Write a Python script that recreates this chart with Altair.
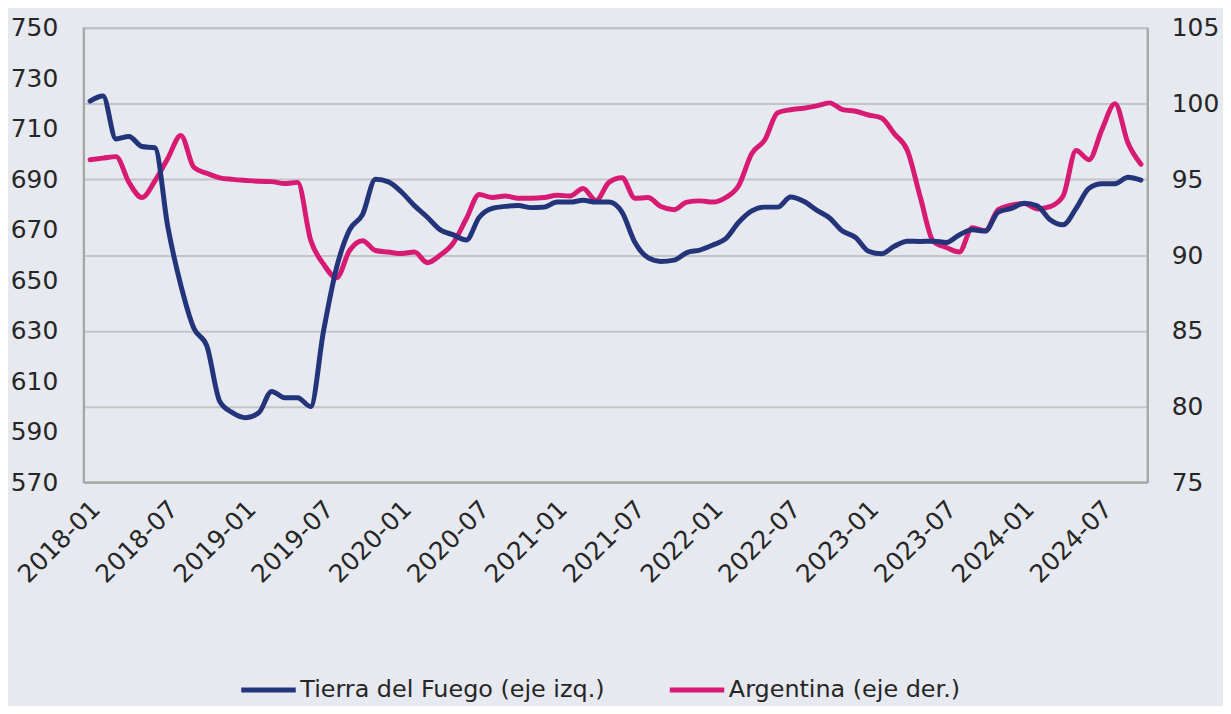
import altair as alt
import pandas as pd

# Categories: monthly 2018-01 .. 2024-10
meses = [f"{y}-{m:02d}" for y in range(2018, 2025) for m in range(1, 13)][:82]

tierra_del_fuego = [
    721, 723, 706, 707, 703, 702.5, 671, 648, 631, 624,
    602, 597.5, 595.6, 597.5, 606, 603.5, 603.5, 600, 630, 655,
    670, 676, 690, 689, 685, 679.6, 675, 670, 668, 666,
    675, 678.5, 679.3, 679.6, 678.8, 679, 681, 681, 681.7, 681,
    681, 677, 665, 659, 657.5, 658, 661, 662, 664, 666.5,
    673, 677.5, 679, 679, 683, 681.3, 677.8, 674.7, 669.5, 667,
    661.5, 660.5, 663.5, 665.5, 665.4, 665.5, 665, 668, 670, 669.5,
    677, 678.5, 680.5, 679.5, 674, 672, 678.5, 686.5, 688.3, 688.3,
    690.8, 689.7,
]

argentina = [
    96.3, 96.4, 96.5, 94.8, 93.8, 94.9, 96.4, 97.9, 95.8, 95.4,
    95.1, 95.0, 94.93, 94.87, 94.85, 94.72, 94.8, 91.0, 89.4, 88.5,
    90.3, 90.95, 90.3, 90.2, 90.1, 90.2, 89.5, 90.0, 90.8, 92.4,
    94.0, 93.8, 93.9, 93.75, 93.75, 93.8, 93.95, 93.9, 94.4, 93.6,
    94.8, 95.1, 93.75, 93.8, 93.2, 93.0, 93.5, 93.58, 93.5, 93.8,
    94.6, 96.7, 97.6, 99.4, 99.6, 99.7, 99.85, 100.05, 99.6, 99.5,
    99.25, 99.05, 98.0, 96.9, 93.8, 90.9, 90.5, 90.2, 91.8, 91.6,
    93.0, 93.3, 93.4, 93.05, 93.2, 93.9, 96.9, 96.3, 98.3, 100.0,
    97.4, 96.0,
]

series = ["Tierra del Fuego (eje izq.)", "Argentina (eje der.)"]
colores = ["#24347a", "#d81b72"]
x_labels = meses[::6]
left_ticks = list(range(570, 751, 20))
right_ticks = list(range(75, 106, 5))

df = pd.concat([
    pd.DataFrame({"mes": meses, "valor": tierra_del_fuego, "serie": series[0]}),
    pd.DataFrame({"mes": meses, "valor": argentina, "serie": series[1]}),
])

FONT = "DejaVu Sans"
TXT = "#262626"

x_enc = alt.X(
    "mes:O",
    sort=meses,
    scale=alt.Scale(type="point", padding=0.5),
    axis=alt.Axis(
        values=x_labels, title=None, labelAngle=315, labelAlign="right",
        labelBaseline="top", labelPadding=14, labelOffset=-3, ticks=False,
        grid=False, domainColor="#a6a6a6", domainWidth=2,
        labelFont=FONT, labelFontSize=25, labelColor=TXT,
    ),
)

color_enc = alt.Color(
    "serie:N",
    scale=alt.Scale(domain=series, range=colores),
    legend=alt.Legend(
        title=None, orient="none", legendX=156, legendY=636,
        direction="horizontal", symbolType="stroke", symbolSize=3000,
        symbolStrokeWidth=5, labelFont=FONT, labelFontSize=24,
        labelColor=TXT, labelOffset=2, columnPadding=55, padding=0,
        labelLimit=500,
    ),
)

base = alt.Chart(df)

left = base.transform_filter(alt.datum.serie == series[0]).mark_line(
    strokeWidth=5, interpolate="monotone", strokeCap="round", strokeJoin="round"
).encode(
    x=x_enc,
    y=alt.Y(
        "valor:Q",
        scale=alt.Scale(domain=[570, 750], nice=False, zero=False),
        axis=alt.Axis(
            orient="left", values=left_ticks, title=None, ticks=False, grid=False,
            domainColor="#a6a6a6", domainWidth=2, labelPadding=26,
            labelFont=FONT, labelFontSize=25, labelColor=TXT,
        ),
    ),
    color=color_enc,
)

right = base.transform_filter(alt.datum.serie == series[1]).mark_line(
    strokeWidth=5, interpolate="monotone", strokeCap="round", strokeJoin="round"
).encode(
    x=x_enc,
    y=alt.Y(
        "valor:Q",
        scale=alt.Scale(domain=[75, 105], nice=False, zero=False),
        axis=alt.Axis(
            orient="right", values=right_ticks, title=None, ticks=False, grid=True,
            gridColor="#c4c4c6", gridWidth=2, domainColor="#a6a6a6", domainWidth=2,
            labelPadding=24, labelFont=FONT, labelFontSize=25, labelColor=TXT,
        ),
    ),
    color=color_enc,
)

chart = alt.layer(right, left).resolve_scale(y="independent").properties(
    width=1070,
    height=457,
    background="#e6e9f0",
    autosize=alt.AutoSizeParams(type="none"),
    padding={"left": 76, "top": 18, "right": 76, "bottom": 223},
).configure_view(stroke="#bdbdbd", strokeWidth=2)

chart.save("out.html", embed_options={"renderer": "svg", "actions": False})
